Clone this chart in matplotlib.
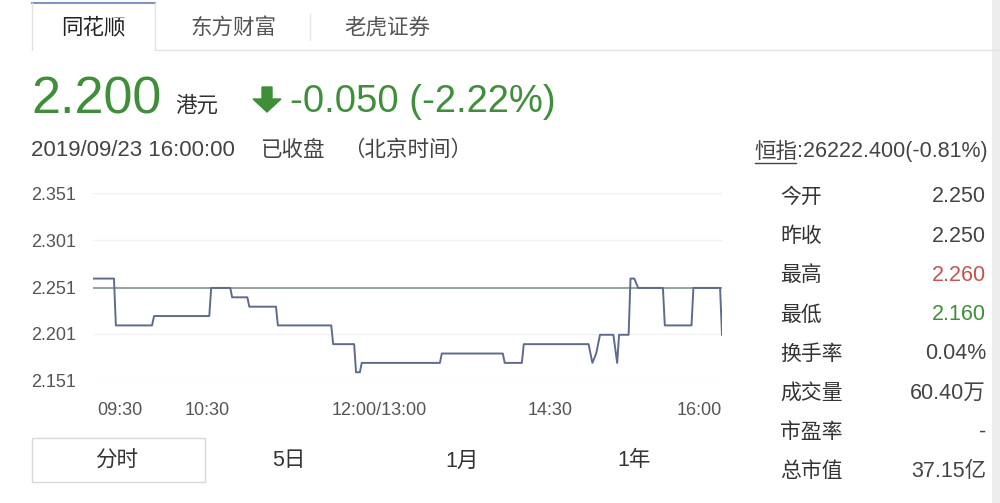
import matplotlib
matplotlib.use("Agg")
import matplotlib.pyplot as plt
import matplotlib.transforms as mtransforms
from matplotlib.patches import Rectangle, Polygon

plt.rcParams['font.family'] = ['Liberation Sans', 'Noto Sans CJK SC', 'DejaVu Sans']

# ===============================
#   DATA
# ===============================
# minutes since 09:30 (lunch break removed, 330 trading minutes)
minutes = [0, 11, 12, 31, 32, 61, 62, 72, 73, 81, 82, 96, 97, 125, 126, 137, 138,
           140, 141, 182, 183, 215, 216, 225, 226, 260, 262, 264, 266, 273, 275,
           276, 281, 282, 284, 286, 299, 300, 314, 315, 329, 330]
prices = [2.26, 2.26, 2.21, 2.21, 2.22, 2.22, 2.25, 2.25, 2.24, 2.24, 2.23, 2.23,
          2.21, 2.21, 2.19, 2.19, 2.16, 2.16, 2.17, 2.17, 2.18, 2.18, 2.17, 2.17,
          2.19, 2.19, 2.17, 2.18, 2.20, 2.20, 2.17, 2.20, 2.20, 2.26, 2.26, 2.25,
          2.25, 2.21, 2.21, 2.25, 2.25, 2.20]
prev_close = 2.250

y_ticks = [2.151, 2.201, 2.251, 2.301, 2.351]
x_ticks = [0, 60, 150, 240, 330]
x_tick_labels = ["09:30", "10:30", "12:00/13:00", "14:30", "16:00"]

tabs = ["同花顺", "东方财富", "老虎证券"]
periods = ["分时", "5日", "1月", "1年"]
stat_labels = ["今开", "昨收", "最高", "最低", "换手率", "成交量", "市盈率", "总市值"]
stat_values = ["2.250", "2.250", "2.260", "2.160", "0.04%", "60.40万", "-", "37.15亿"]

GREEN = "#3f8f3a"
RED = "#c8524f"
DARK = "#333333"
GREY = "#555555"

W, H = 1000, 503
fig = plt.figure(figsize=(W / 100, H / 100), dpi=100)
fig.patch.set_facecolor("white")

# overlay in pixel coordinates for the widget chrome
bg = fig.add_axes([0, 0, 1, 1])
bg.set_xlim(0, W)
bg.set_ylim(H, 0)
bg.axis("off")

# --- top tabs ---
bg.plot([32, 155], [3, 3], color="#7f95bd", lw=1.5)
bg.plot([32, 32], [3, 50], color="#e2e2e2", lw=1)
bg.plot([155, 155], [3, 50], color="#e2e2e2", lw=1)
bg.plot([155, W], [50, 50], color="#e2e2e2", lw=1)
bg.plot([310, 310], [14, 40], color="#e6e6e6", lw=1)
tab_x = [93, 233, 387]
for i, (name, x) in enumerate(zip(tabs, tab_x)):
    bg.text(x, 28, name, fontsize=15.5, ha="center", va="center",
            color="#222222" if i == 0 else GREY)

# --- price header ---
bg.text(31, 100, "2.200", fontsize=37.5, color=GREEN, ha="left", va="center")
bg.text(175, 106, "港元", fontsize=15.5, color=DARK, ha="left", va="center")
bg.add_patch(Polygon([[262, 87], [272, 87], [272, 99], [281, 99], [267, 112],
                      [253, 99], [262, 99]], closed=True, color=GREEN))
bg.text(290, 102, "-0.050 (-2.22%)", fontsize=27.5, color=GREEN, ha="left", va="center")

bg.text(31, 150, "2019/09/23 16:00:00", fontsize=16, color="#444444", ha="left", va="center")
bg.text(260, 150, "已收盘", fontsize=15.5, color="#444444", ha="left", va="center")
bg.text(343, 150, "（北京时间）", fontsize=15.5, color="#444444", ha="left", va="center")

hsi = bg.text(988, 152, ":26222.400(-0.81%)", fontsize=15.5, color="#444444",
              ha="right", va="center")
fig.canvas.draw()
inv = bg.transData.inverted()
hsi_left = inv.transform(hsi.get_window_extent().get_points())[0, 0]
hk = bg.text(hsi_left, 152, "恒指", fontsize=15.5, color="#444444", ha="right", va="center")
fig.canvas.draw()
hk_box = inv.transform(hk.get_window_extent().get_points())
bg.plot([hk_box[0, 0] + 1, hk_box[1, 0] - 1], [163, 163], color="#444444", lw=1)

# --- stats panel ---
for i, (lab, val) in enumerate(zip(stat_labels, stat_values)):
    y = 197 + i * 39.2
    color = "#444444"
    if lab == "最高":
        color = RED
    elif lab == "最低":
        color = GREEN
    bg.text(780, y, lab, fontsize=15, color=DARK, ha="left", va="center")
    bg.text(986, y, val, fontsize=15.5, color=color, ha="right", va="center")

bg.add_patch(Rectangle((992, 0), 8, H, color="#ededed", lw=0))

# --- period tabs ---
bg.add_patch(Rectangle((31.5, 438), 173, 44, facecolor="white", edgecolor="#d8d8d8", lw=1))
for name, x in zip(periods, [117, 289, 462, 634]):
    bg.text(x, 461, name, fontsize=15.5, color=DARK, ha="center", va="center")

# ===============================
#   INTRADAY CHART
# ===============================
left, right = 93 / W, 722 / W
top, bottom = 1 - 193.3 / H, 1 - 380.7 / H
ax = fig.add_axes([left, bottom, right - left, top - bottom])
ax.set_facecolor("none")

ax.axhline(prev_close, color="#8e9c98", lw=1.3, zorder=2)
ax.plot(minutes, prices, color="#5d6b8c", lw=1.4, zorder=3)

ax.set_xlim(0, 330)
ax.set_ylim(y_ticks[0], y_ticks[-1])
ax.set_yticks(y_ticks)
ax.set_yticklabels([f"{v:.3f}" for v in y_ticks])
ax.set_xticks(x_ticks)
ax.set_xticklabels(x_tick_labels)
ax.grid(axis="y", color="#f1f1f1", lw=1)
ax.grid(axis="x", visible=False)
for s in ax.spines.values():
    s.set_visible(False)
ax.tick_params(axis="both", length=0, labelsize=13, labelcolor=GREY)
ax.tick_params(axis="y", pad=12)
ax.tick_params(axis="x", pad=15)
xl = ax.get_xticklabels()
xl[0].set_ha("left")
xl[0].set_transform(xl[0].get_transform() +
                    mtransforms.ScaledTranslation(4 / 100, 0, fig.dpi_scale_trans))
xl[-1].set_ha("right")

fig.savefig("out.png", dpi=100, facecolor="white")
